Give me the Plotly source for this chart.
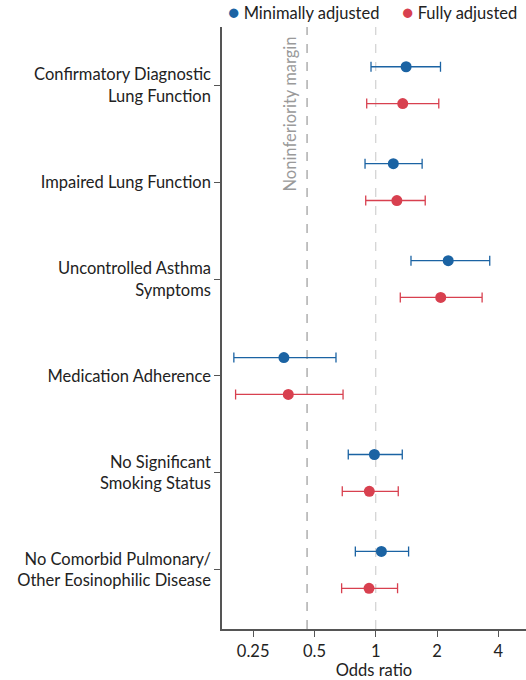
import math
import plotly.graph_objects as go

categories = [
    "Confirmatory Diagnostic<br>Lung Function",
    "Impaired Lung Function",
    "Uncontrolled Asthma<br>Symptoms",
    "Medication Adherence",
    "No Significant<br>Smoking Status",
    "No Comorbid Pulmonary/<br>Other Eosinophilic Disease",
]

# odds ratios with 95% CI
min_or = [1.41, 1.22, 2.27, 0.354, 0.985, 1.066]
min_lo = [0.948, 0.886, 1.49, 0.201, 0.733, 0.794]
min_hi = [2.08, 1.69, 3.63, 0.638, 1.35, 1.45]

full_or = [1.357, 1.27, 2.085, 0.372, 0.93, 0.927]
full_lo = [0.903, 0.893, 1.32, 0.205, 0.685, 0.68]
full_hi = [2.04, 1.75, 3.33, 0.691, 1.29, 1.28]

margin_value = 0.46
x_ticks = [0.25, 0.5, 1, 2, 4]
x_tick_labels = ["0.25", "0.5", "1", "2", "4"]

BLUE = "#1b63a3"
RED = "#d8404f"
FONT = "Lato"
FSIZE = 16.5

pos = list(range(len(categories)))

fig = go.Figure()


def add_series(values, lo, hi, offset, color, name):
    fig.add_trace(go.Scatter(
        x=values,
        y=[p + offset for p in pos],
        mode="markers",
        name=name,
        showlegend=False,
        marker=dict(color=color, size=11),
        error_x=dict(
            type="data",
            symmetric=False,
            array=[h - v for h, v in zip(hi, values)],
            arrayminus=[v - l for v, l in zip(values, lo)],
            color=color,
            thickness=1.3,
            width=5,
        ),
    ))


add_series(min_or, min_lo, min_hi, -0.19, BLUE, "Minimally adjusted")
add_series(full_or, full_lo, full_hi, 0.19, RED, "Fully adjusted")

# reference lines
fig.add_vline(x=1, line=dict(color="#d0d0d0", width=1.2, dash="dash"), layer="below")
fig.add_vline(x=margin_value, line=dict(color="#9a9a9a", width=1.2, dash="dash"), layer="below")
fig.add_annotation(
    x=math.log10(0.375), xref="x", xanchor="center",
    y=1, yref="paper", yanchor="top", yshift=-8,
    text="Noninferiority margin", textangle=-90, showarrow=False,
    font=dict(family=FONT, size=FSIZE, color="#9a9a9a"),
)

# legend drawn as text above the plot
legend_items = [("Minimally adjusted", BLUE, 0.012), ("Fully adjusted", RED, 0.587)]
for label, color, xpos in legend_items:
    fig.add_annotation(
        x=xpos, xref="paper", xanchor="left",
        y=1, yref="paper", yanchor="bottom", yshift=2,
        text=f"<span style='color:{color};font-size:19px'>●</span> {label}",
        showarrow=False,
        font=dict(family=FONT, size=FSIZE, color="#222222"),
    )

fig.update_layout(
    width=526,
    height=680,
    margin=dict(l=222, r=0, t=27, b=51),
    plot_bgcolor="white",
    paper_bgcolor="white",
    font=dict(family=FONT, size=FSIZE, color="#222222"),
    showlegend=False,
    xaxis=dict(
        type="log",
        range=[-0.755, 0.738],
        tickvals=x_ticks,
        ticktext=x_tick_labels,
        ticks="outside",
        ticklen=6,
        tickcolor="#555555",
        showline=True,
        linecolor="#555555",
        linewidth=1.5,
        showgrid=False,
        zeroline=False,
        automargin=False,
        title=dict(text="Odds ratio", font=dict(family=FONT, size=FSIZE), standoff=4),
        tickfont=dict(family=FONT, size=FSIZE),
    ),
    yaxis=dict(
        range=[5.61, -0.6],
        tickvals=pos,
        ticktext=categories,
        ticks="outside",
        ticklen=6,
        tickcolor="#555555",
        showline=True,
        linecolor="#555555",
        linewidth=1.5,
        showgrid=False,
        zeroline=False,
        automargin=False,
        ticklabelstandoff=0,
        tickfont=dict(family=FONT, size=FSIZE),
    ),
)

# the page's default body margin would shift the figure by 8px
fig.write_html(
    "out.html",
    config={"displayModeBar": False},
    post_script="document.body.style.margin = '0';",
)
